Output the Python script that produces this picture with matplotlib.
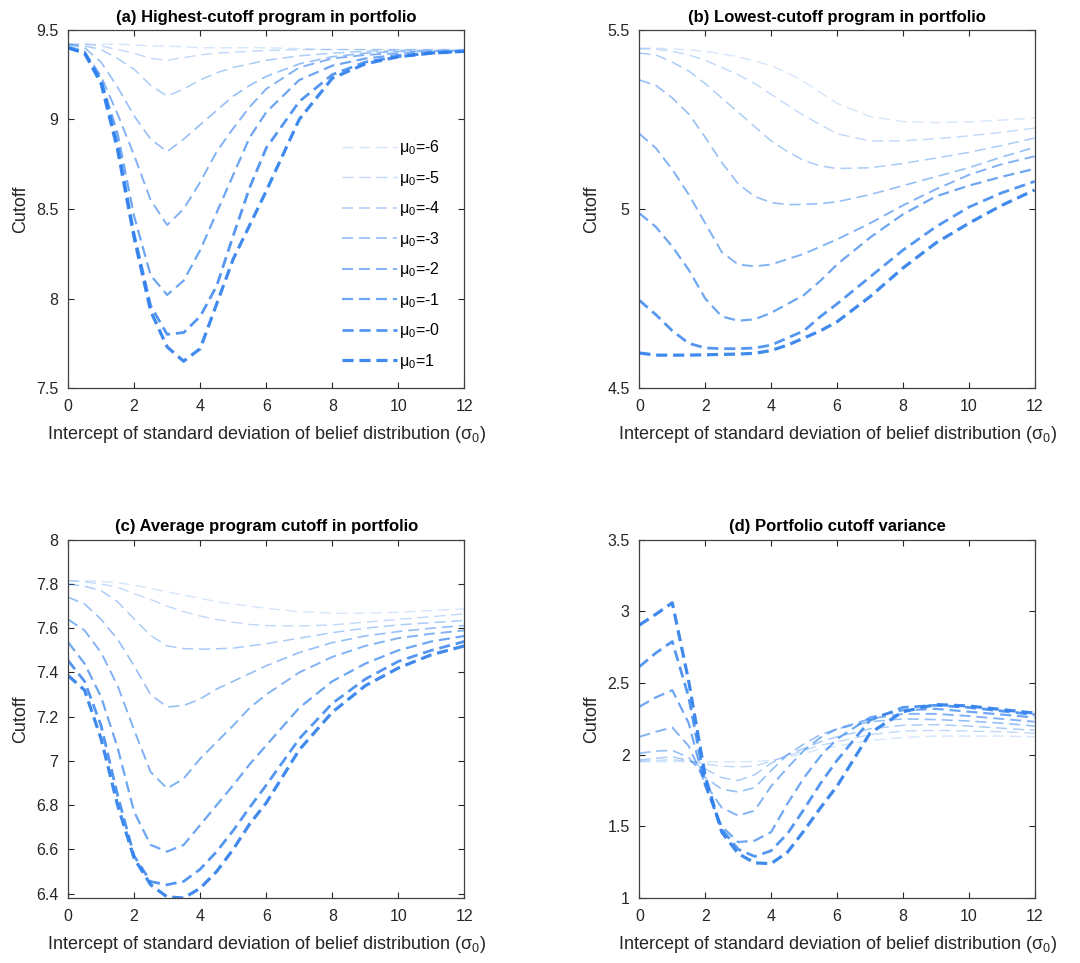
import numpy as np
import matplotlib
matplotlib.use('Agg')
import matplotlib.pyplot as plt
from matplotlib.ticker import FuncFormatter

plt.rcParams['font.family'] = ['Liberation Sans', 'DejaVu Sans']
plt.rcParams['mathtext.fontset'] = 'custom'
plt.rcParams['mathtext.rm'] = 'Liberation Sans'
plt.rcParams['mathtext.it'] = 'Liberation Sans'
plt.rcParams['mathtext.default'] = 'regular'
plt.rcParams['lines.scale_dashes'] = False

# sigma_0 grid (x axis)
sigma0 = [0, 0.5, 1, 1.5, 2, 2.5, 3, 3.5, 4, 4.5, 5, 5.5, 6, 7, 8, 9, 10, 11, 12]
mu_labels = ['-6', '-5', '-4', '-3', '-2', '-1', '-0', '1']

# (a) highest-cutoff program
high_cutoff = [
    [9.42, 9.42, 9.42, 9.42, 9.415, 9.41, 9.41, 9.405, 9.40, 9.40, 9.40, 9.40, 9.40, 9.395, 9.39, 9.39, 9.39, 9.39, 9.39],
    [9.42, 9.42, 9.41, 9.39, 9.37, 9.34, 9.33, 9.345, 9.36, 9.37, 9.375, 9.38, 9.385, 9.39, 9.39, 9.39, 9.39, 9.39, 9.39],
    [9.42, 9.41, 9.39, 9.34, 9.28, 9.19, 9.13, 9.17, 9.22, 9.26, 9.29, 9.31, 9.33, 9.355, 9.37, 9.38, 9.385, 9.385, 9.385],
    [9.42, 9.40, 9.32, 9.18, 9.02, 8.89, 8.82, 8.89, 8.97, 9.05, 9.13, 9.19, 9.24, 9.31, 9.35, 9.37, 9.38, 9.38, 9.385],
    [9.41, 9.38, 9.24, 9.03, 8.80, 8.55, 8.41, 8.50, 8.65, 8.82, 8.95, 9.07, 9.17, 9.29, 9.34, 9.36, 9.37, 9.38, 9.38],
    [9.40, 9.37, 9.22, 8.92, 8.46, 8.13, 8.02, 8.10, 8.27, 8.48, 8.69, 8.90, 9.04, 9.22, 9.30, 9.34, 9.36, 9.37, 9.38],
    [9.40, 9.37, 9.22, 8.86, 8.36, 7.96, 7.80, 7.81, 7.90, 8.07, 8.35, 8.62, 8.84, 9.10, 9.25, 9.32, 9.35, 9.37, 9.38],
    [9.40, 9.37, 9.20, 8.83, 8.34, 7.93, 7.73, 7.65, 7.72, 7.97, 8.22, 8.41, 8.60, 9.00, 9.23, 9.31, 9.35, 9.37, 9.38],
]

# (b) lowest-cutoff program
low_cutoff = [
    [5.449, 5.449, 5.447, 5.444, 5.44, 5.433, 5.425, 5.413, 5.40, 5.38, 5.355, 5.325, 5.295, 5.258, 5.244, 5.241, 5.243, 5.248, 5.254],
    [5.447, 5.446, 5.44, 5.43, 5.415, 5.395, 5.375, 5.35, 5.32, 5.29, 5.26, 5.235, 5.21, 5.19, 5.19, 5.196, 5.204, 5.214, 5.226],
    [5.435, 5.43, 5.41, 5.385, 5.35, 5.31, 5.27, 5.23, 5.19, 5.16, 5.135, 5.12, 5.113, 5.115, 5.127, 5.142, 5.158, 5.177, 5.198],
    [5.36, 5.345, 5.31, 5.265, 5.20, 5.13, 5.07, 5.035, 5.018, 5.012, 5.013, 5.015, 5.02, 5.04, 5.065, 5.09, 5.115, 5.145, 5.172],
    [5.21, 5.17, 5.11, 5.04, 4.96, 4.88, 4.845, 4.84, 4.845, 4.86, 4.875, 4.895, 4.915, 4.96, 5.01, 5.055, 5.095, 5.125, 5.147],
    [4.988, 4.95, 4.895, 4.83, 4.75, 4.70, 4.688, 4.692, 4.71, 4.735, 4.76, 4.80, 4.845, 4.92, 4.985, 5.035, 5.065, 5.09, 5.112],
    [4.745, 4.705, 4.66, 4.625, 4.612, 4.61, 4.61, 4.612, 4.62, 4.64, 4.66, 4.70, 4.735, 4.81, 4.885, 4.95, 5.005, 5.045, 5.077],
    [4.598, 4.592, 4.592, 4.592, 4.593, 4.594, 4.595, 4.597, 4.605, 4.62, 4.64, 4.66, 4.685, 4.755, 4.835, 4.905, 4.96, 5.01, 5.053],
]

# (c) average program cutoff
avg_cutoff = [
    [7.815, 7.815, 7.812, 7.806, 7.795, 7.78, 7.765, 7.75, 7.735, 7.72, 7.71, 7.70, 7.69, 7.675, 7.668, 7.668, 7.672, 7.68, 7.687],
    [7.815, 7.81, 7.80, 7.785, 7.757, 7.73, 7.70, 7.675, 7.655, 7.64, 7.627, 7.617, 7.612, 7.61, 7.615, 7.627, 7.64, 7.652, 7.665],
    [7.80, 7.79, 7.77, 7.72, 7.642, 7.567, 7.52, 7.508, 7.505, 7.507, 7.51, 7.52, 7.53, 7.555, 7.58, 7.60, 7.615, 7.625, 7.635],
    [7.74, 7.71, 7.64, 7.55, 7.43, 7.30, 7.244, 7.25, 7.28, 7.325, 7.36, 7.395, 7.43, 7.49, 7.535, 7.565, 7.585, 7.60, 7.612],
    [7.64, 7.59, 7.49, 7.34, 7.14, 6.95, 6.875, 6.92, 7.01, 7.085, 7.16, 7.24, 7.30, 7.40, 7.47, 7.52, 7.555, 7.575, 7.59],
    [7.537, 7.44, 7.29, 7.06, 6.77, 6.62, 6.59, 6.62, 6.71, 6.80, 6.89, 6.985, 7.07, 7.24, 7.36, 7.44, 7.50, 7.54, 7.565],
    [7.454, 7.36, 7.16, 6.845, 6.57, 6.454, 6.44, 6.455, 6.51, 6.59, 6.685, 6.79, 6.89, 7.10, 7.26, 7.37, 7.45, 7.50, 7.54],
    [7.386, 7.32, 7.10, 6.80, 6.56, 6.44, 6.385, 6.38, 6.424, 6.50, 6.60, 6.715, 6.81, 7.05, 7.22, 7.34, 7.42, 7.48, 7.52],
]

# (d) portfolio cutoff variance
var_cutoff = [
    [1.95, 1.95, 1.952, 1.952, 1.95, 1.95, 1.95, 1.952, 1.96, 1.98, 2.01, 2.04, 2.06, 2.10, 2.12, 2.13, 2.13, 2.13, 2.125],
    [1.956, 1.96, 1.965, 1.955, 1.935, 1.92, 1.915, 1.92, 1.955, 1.99, 2.03, 2.065, 2.09, 2.14, 2.165, 2.17, 2.165, 2.16, 2.15],
    [1.963, 1.975, 1.985, 1.96, 1.90, 1.84, 1.82, 1.86, 1.94, 2.0, 2.045, 2.09, 2.125, 2.18, 2.205, 2.21, 2.20, 2.185, 2.17],
    [2.01, 2.025, 2.03, 1.98, 1.84, 1.76, 1.74, 1.77, 1.89, 2.0, 2.075, 2.14, 2.18, 2.23, 2.25, 2.245, 2.235, 2.22, 2.20],
    [2.125, 2.16, 2.19, 2.06, 1.80, 1.63, 1.575, 1.61, 1.78, 1.91, 2.03, 2.12, 2.18, 2.25, 2.285, 2.285, 2.27, 2.25, 2.23],
    [2.335, 2.40, 2.45, 2.22, 1.78, 1.50, 1.39, 1.40, 1.46, 1.66, 1.84, 1.99, 2.11, 2.26, 2.31, 2.32, 2.30, 2.28, 2.26],
    [2.614, 2.71, 2.79, 2.40, 1.80, 1.48, 1.34, 1.29, 1.33, 1.45, 1.62, 1.80, 1.96, 2.24, 2.33, 2.345, 2.33, 2.305, 2.28],
    [2.905, 2.98, 3.06, 2.51, 1.85, 1.46, 1.31, 1.245, 1.24, 1.32, 1.47, 1.63, 1.78, 2.15, 2.30, 2.35, 2.34, 2.315, 2.29],
]

line_color = '#2f80ed'
alphas = [0.2, 0.3, 0.4, 0.5, 0.6, 0.7, 0.82, 0.92]
widths = [1.0, 1.0, 1.1, 1.2, 1.4, 1.6, 2.0, 2.3]
text_col = '#262626'

panels = [
    ('(a) Highest-cutoff program in portfolio', high_cutoff, (7.5, 9.5), np.arange(7.5, 9.51, 0.5)),
    ('(b) Lowest-cutoff program in portfolio', low_cutoff, (4.5, 5.5), np.arange(4.5, 5.51, 0.5)),
    ('(c) Average program cutoff in portfolio', avg_cutoff, (6.38, 8.0), np.arange(6.4, 8.01, 0.2)),
    ('(d) Portfolio cutoff variance', var_cutoff, (1.0, 3.5), np.arange(1.0, 3.51, 0.5)),
]
positions = [
    [0.063, 0.597, 0.367, 0.372],
    [0.592, 0.597, 0.366, 0.372],
    [0.063, 0.0675, 0.367, 0.372],
    [0.592, 0.0675, 0.366, 0.372],
]

fig = plt.figure(figsize=(10.8, 9.63), dpi=100)
fmt = FuncFormatter(lambda v, p: '%g' % round(v, 2))

for i, (title, series, ylim, yticks) in enumerate(panels):
    ax = fig.add_axes(positions[i])
    for k, ys in enumerate(series):
        ax.plot(sigma0, ys, linestyle='--', color=line_color, alpha=alphas[k],
                linewidth=widths[k], dashes=(8, 4.2), label='$\\mu_0$=' + mu_labels[k])
    ax.set_xlim(0, 12)
    ax.set_ylim(*ylim)
    ax.set_xticks(np.arange(0, 13, 2))
    ax.set_yticks(yticks)
    ax.yaxis.set_major_formatter(fmt)
    ax.tick_params(direction='in', top=True, right=True, length=4, width=0.8,
                   labelsize=11.5, colors=text_col)
    ax.tick_params(axis='x', pad=8)
    ax.tick_params(axis='y', pad=7)
    for s in ax.spines.values():
        s.set_color('#404040')
        s.set_linewidth(0.9)
    ax.set_title(title, fontsize=12, fontweight='bold', color='black', pad=6)
    ax.set_ylabel('Cutoff', fontsize=13, color=text_col, labelpad=5)
    ax.set_xlabel('Intercept of standard deviation of belief distribution ($\\sigma_0$)',
                  fontsize=13, color=text_col, labelpad=7)
    if i == 0:
        ax.legend(loc='center right', bbox_to_anchor=(0.955, 0.373), frameon=False,
                  fontsize=11.5, handlelength=3.4, handletextpad=0.15,
                  labelspacing=0.72, borderaxespad=0)

fig.savefig('out.png', dpi=100)
